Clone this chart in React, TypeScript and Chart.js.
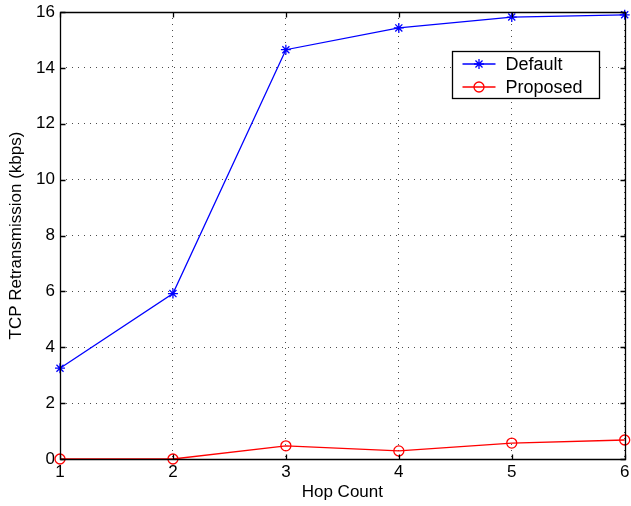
import React, { useEffect, useRef } from 'react';
import { Chart, registerables } from 'chart.js';
import { drawPoint } from 'chart.js/helpers';

Chart.register(...registerables);

const hopCounts = [1, 2, 3, 4, 5, 6];
const defaultValues = [3.25, 5.92, 14.65, 15.43, 15.82, 15.9];
const proposedValues = [0, 0, 0.47, 0.29, 0.57, 0.68];
const yTickValues = [0, 2, 4, 6, 8, 10, 12, 14, 16];
const seriesNames = ['Default', 'Proposed'];
const xTitle = 'Hop Count';
const yTitle = 'TCP Retransmission (kbps)';

const FONT = '"Liberation Sans", Arial, Helvetica, sans-serif';

const boxPlugin = {
  id: 'matlabBox',
  afterDatasetsDraw(chart: any) {
    const { ctx, chartArea } = chart;
    const { left, right, top, bottom } = chartArea;
    const xs = chart.scales.x;
    const ys = chart.scales.y;
    ctx.save();
    ctx.strokeStyle = '#000';
    ctx.lineWidth = 1.3;
    ctx.setLineDash([]);
    const L = Math.round(left) + 0.5;
    const R = Math.round(right) + 0.5;
    const T = Math.round(top) + 0.5;
    const B = Math.round(bottom) + 0.5;
    ctx.beginPath();
    ctx.rect(L, T, R - L, B - T);
    ctx.stroke();
    const tl = 5;
    ctx.beginPath();
    hopCounts.forEach((v) => {
      const px = Math.round(xs.getPixelForValue(v)) + 0.5;
      ctx.moveTo(px, B);
      ctx.lineTo(px, B - tl);
      ctx.moveTo(px, T);
      ctx.lineTo(px, T + tl);
    });
    yTickValues.forEach((v) => {
      const py = Math.round(ys.getPixelForValue(v)) + 0.5;
      ctx.moveTo(L, py);
      ctx.lineTo(L + tl, py);
      ctx.moveTo(R, py);
      ctx.lineTo(R - tl, py);
    });
    ctx.stroke();
    ctx.restore();
  },
  afterDraw(chart: any) {
    const { ctx, chartArea } = chart;
    const bx = Math.round(chartArea.right) - 172.5;
    const by = Math.round(chartArea.top) + 39.5;
    const bw = 147;
    const bh = 47;
    ctx.save();
    ctx.fillStyle = '#fff';
    ctx.fillRect(bx, by, bw, bh);
    ctx.strokeStyle = '#000';
    ctx.lineWidth = 1.3;
    ctx.setLineDash([]);
    ctx.strokeRect(bx, by, bw, bh);
    chart.data.datasets.forEach((ds: any, i: number) => {
      const cy = by + 12.5 + i * 23;
      ctx.strokeStyle = ds.borderColor;
      ctx.lineWidth = ds.borderWidth;
      ctx.beginPath();
      ctx.moveTo(bx + 10, cy);
      ctx.lineTo(bx + 43, cy);
      ctx.stroke();
      ctx.fillStyle = 'rgba(0,0,0,0)';
      ctx.strokeStyle = ds.pointBorderColor;
      ctx.lineWidth = ds.pointBorderWidth;
      drawPoint(ctx, { pointStyle: ds.pointStyle, radius: ds.pointRadius, borderWidth: ds.pointBorderWidth, rotation: 0 } as any, bx + 26.5, cy);
      ctx.fillStyle = '#000';
      ctx.font = `18px ${FONT}`;
      ctx.textBaseline = 'middle';
      ctx.textAlign = 'left';
      ctx.fillText(ds.label, bx + 53, cy + 1);
    });
    ctx.restore();
  },
};

export default function App() {
  const canvasRef = useRef<HTMLCanvasElement | null>(null);

  useEffect(() => {
    if (!canvasRef.current) return;
    const chart = new Chart(canvasRef.current, {
      type: 'line',
      data: {
        datasets: [
          {
            label: seriesNames[0],
            data: hopCounts.map((x, i) => ({ x, y: defaultValues[i] })),
            borderColor: '#0000ff',
            backgroundColor: 'rgba(0,0,0,0)',
            borderWidth: 1.3,
            pointStyle: 'star',
            pointRadius: 5,
            pointBorderColor: '#0000ff',
            pointBackgroundColor: 'rgba(0,0,0,0)',
            pointBorderWidth: 1.3,
            tension: 0,
            clip: false as any,
          },
          {
            label: seriesNames[1],
            data: hopCounts.map((x, i) => ({ x, y: proposedValues[i] })),
            borderColor: '#ff0000',
            backgroundColor: 'rgba(0,0,0,0)',
            borderWidth: 1.3,
            pointStyle: 'circle',
            pointRadius: 5,
            pointBorderColor: '#ff0000',
            pointBackgroundColor: 'rgba(0,0,0,0)',
            pointBorderWidth: 1.3,
            tension: 0,
            clip: false as any,
          },
        ],
      },
      options: {
        responsive: false,
        animation: false,
        layout: { padding: { top: 12, right: 4, left: 0, bottom: 0 } },
        plugins: {
          legend: { display: false },
          tooltip: { enabled: false },
        },
        scales: {
          x: {
            type: 'linear',
            min: 1,
            max: 6,
            afterFit: (s: any) => {
              s.height = 47;
              s.paddingLeft = 0;
              s.paddingRight = 0;
            },
            afterBuildTicks: (s: any) => {
              s.ticks = hopCounts.map((v) => ({ value: v }));
            },
            ticks: {
              color: '#000',
              font: { family: FONT, size: 17 },
              padding: 3,
              maxRotation: 0,
              callback: (v: any) => String(v),
            },
            grid: { color: 'rgba(0,0,0,0.7)', lineWidth: 1, drawTicks: false },
            border: { display: false, dash: [1, 5] },
            title: {
              display: true,
              text: xTitle,
              color: '#000',
              font: { family: FONT, size: 17 },
              padding: { top: 0, bottom: 3 },
            },
          },
          y: {
            type: 'linear',
            min: 0,
            max: 16,
            afterFit: (s: any) => {
              s.width = 60;
              s.paddingTop = 0;
              s.paddingBottom = 0;
            },
            afterBuildTicks: (s: any) => {
              s.ticks = yTickValues.map((v) => ({ value: v }));
            },
            ticks: {
              color: '#000',
              font: { family: FONT, size: 17 },
              padding: 5,
              callback: (v: any) => String(v),
            },
            grid: { color: 'rgba(0,0,0,0.7)', lineWidth: 1, drawTicks: false },
            border: { display: false, dash: [1, 5] },
            title: {
              display: true,
              text: yTitle,
              color: '#000',
              font: { family: FONT, size: 17 },
              padding: { top: 6, bottom: 0 },
            },
          },
        },
      },
      plugins: [boxPlugin],
    });
    return () => chart.destroy();
  }, []);

  return (
    <div style={{ position: 'absolute', left: 0, top: 0, width: 631, height: 506, background: '#fff' }}>
      <canvas ref={canvasRef} width={631} height={506} style={{ display: 'block', width: 631, height: 506 }} />
    </div>
  );
}
